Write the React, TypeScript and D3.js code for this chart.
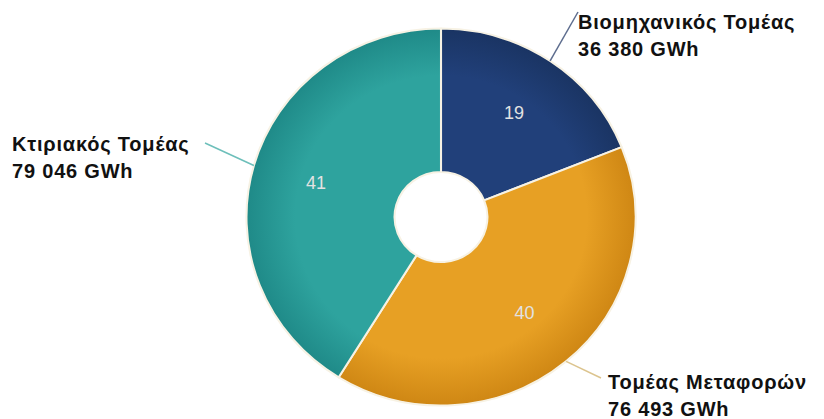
import React from "react";
import * as d3 from "d3";

const sectors = ["Βιομηχανικός Τομέας", "Τομέας Μεταφορών", "Κτιριακός Τομέας"];
const energyGWh = [36380, 76493, 79046];
const energyLabels = ["36 380 GWh", "76 493 GWh", "79 046 GWh"];
const percentLabels = ["19", "40", "41"];

const W = 824;
const H = 419;
const cx = 441;
const cy = 217;
const R = 188.5;
const r0 = 45;
const sx = 1.032;

const palettes = [
  { id: "gNavy", inner: "#21407a", outer: "#1a3463", leader: "#5d6d8e" },
  { id: "gOrange", inner: "#e7a024", outer: "#cf8714", leader: "#dcc48e" },
  { id: "gTeal", inner: "#2ea39e", outer: "#1f8a88", leader: "#6dbfba" },
];

// label layout: leader end point & text anchor (annotation layout)
const labelLayout = [
  { end: [578, 12], tx: 578, ty: 29, anchor: "start" },
  { end: [601, 378], tx: 608, ty: 389, anchor: "start" },
  { end: [205, 143], tx: 12, ty: 151, anchor: "start" },
];

export default function App() {
  const pie = d3.pie<number>().sort(null).value((d) => d);
  const arcs = pie(energyGWh);
  const arc = d3.arc<d3.PieArcDatum<number>>().innerRadius(r0).outerRadius(R);

  const polar = (a: number, rad: number): [number, number] => [
    cx + Math.sin(a) * rad * sx,
    cy - Math.cos(a) * rad,
  ];

  return (
    <svg
      width={W}
      height={H}
      style={{ position: "absolute", left: 0, top: 0, background: "#fff" }}
      fontFamily="'Liberation Sans', Arial, sans-serif"
    >
      <defs>
        {palettes.map((p) => (
          <radialGradient
            key={p.id}
            id={p.id}
            gradientUnits="userSpaceOnUse"
            cx={0}
            cy={0}
            r={R}
          >
            <stop offset="0%" stopColor={p.inner} />
            <stop offset="75%" stopColor={p.inner} />
            <stop offset="100%" stopColor={p.outer} />
          </radialGradient>
        ))}
      </defs>
      <g transform={`translate(${cx},${cy}) scale(${sx},1)`}>
        {arcs.map((a, i) => (
          <path
            key={i}
            d={arc(a) || ""}
            fill={`url(#${palettes[i].id})`}
            stroke="#f7f2e4"
            strokeWidth={2}
            strokeLinejoin="round"
          />
        ))}
      </g>
      {arcs.map((a, i) => {
        const mid = (a.startAngle + a.endAngle) / 2;
        const [px, py] = polar(mid, 126);
        const [lx, ly] = polar(mid, R);
        const L = labelLayout[i];
        return (
          <g key={"l" + i}>
            <text
              x={px}
              y={py}
              textAnchor="middle"
              dominantBaseline="central"
              fontSize={18}
              fill="#e2e2e2"
            >
              {percentLabels[i]}
            </text>
            <line
              x1={lx}
              y1={ly}
              x2={L.end[0]}
              y2={L.end[1]}
              stroke={palettes[i].leader}
              strokeWidth={1.5}
            />
            <text
              x={L.tx}
              y={L.ty}
              fontSize={20}
              letterSpacing={0.8}
              fontWeight="bold"
              fill="#111"
              textAnchor={L.anchor as any}
            >
              <tspan x={L.tx}>{sectors[i]}</tspan>
              <tspan x={L.tx} dy={27}>
                {energyLabels[i]}
              </tspan>
            </text>
          </g>
        );
      })}
    </svg>
  );
}
